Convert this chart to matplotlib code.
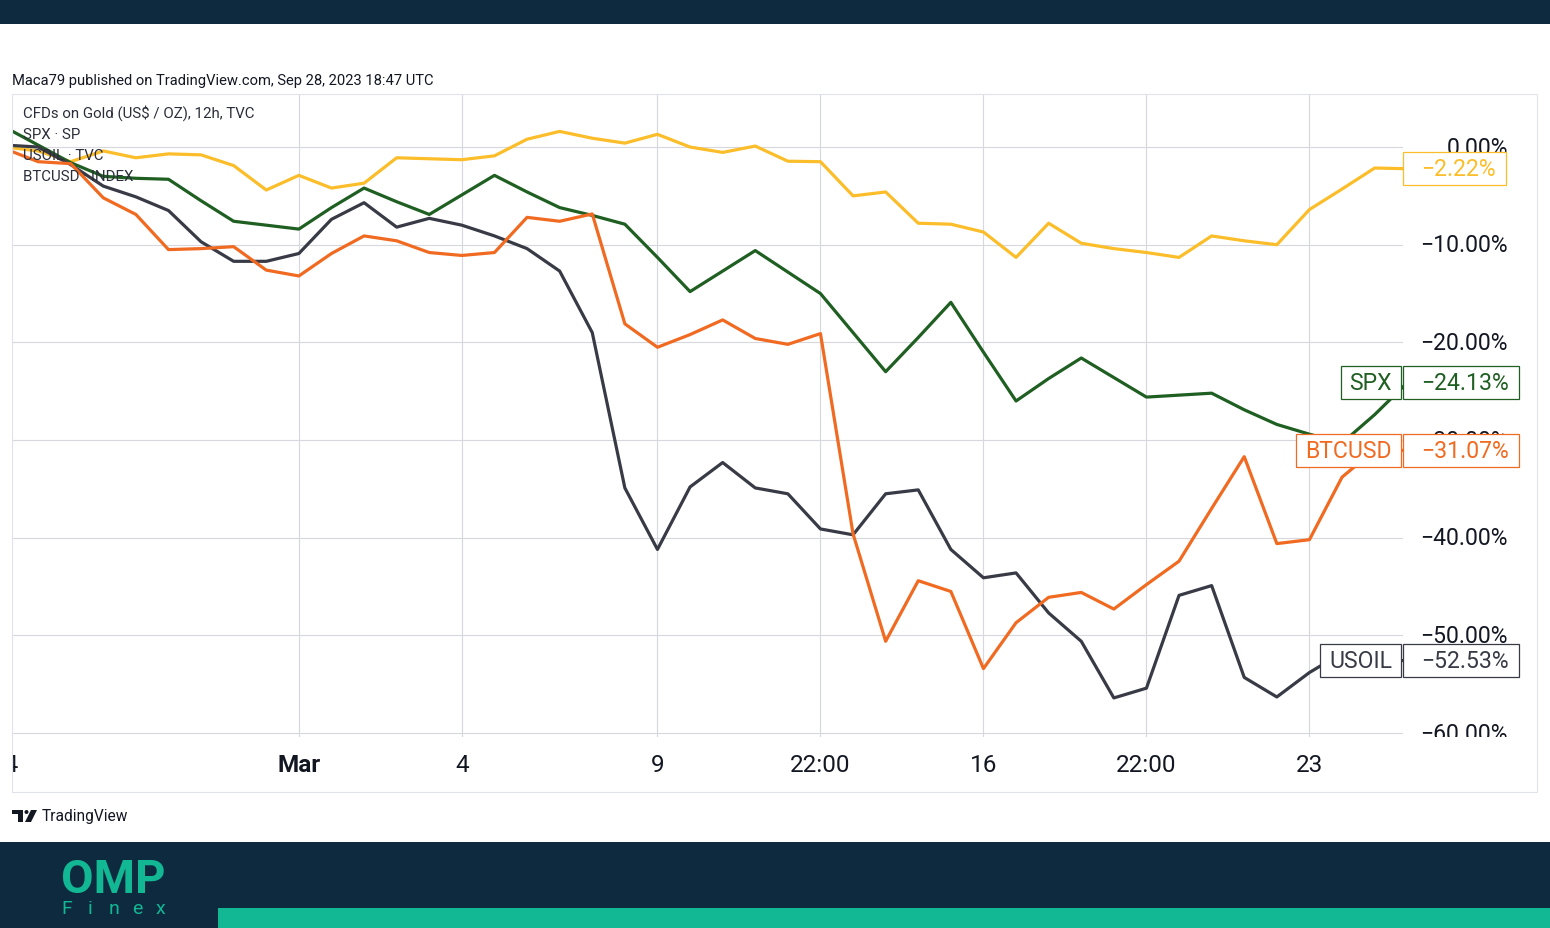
import matplotlib
matplotlib.use('Agg')
import matplotlib.pyplot as plt
from matplotlib.patches import Rectangle, Circle, Polygon

W, H, DPI = 1550, 929, 100

# ---- data: % change since start, one value per 12h bar (bar 0 = "Mar") ----
bar_idx = list(range(-9, 35))
gold = [0.0, -0.4, -1.5, -0.4, -1.1, -0.7, -0.8, -1.9, -4.4,
        -2.9, -4.2, -3.7, -1.1, -1.2, -1.3, -0.9, 0.8, 1.6, 0.9, 0.4,
        1.3, 0.0, -0.55, 0.1, -1.45, -1.5, -5.0, -4.6, -7.8, -7.9,
        -8.7, -11.3, -7.8, -9.85, -10.4, -10.8, -11.3, -9.1, -9.6, -10.0,
        -6.4, -4.3, -2.15, -2.22]
spx = [2.0, 0.2, -1.6, -3.0, -3.2, -3.3, -5.5, -7.6, -8.0,
       -8.4, -6.2, -4.2, -5.6, -6.9, -4.9, -2.9, -4.6, -6.2, -7.0, -7.9,
       -11.3, -14.8, -12.7, -10.6, -12.8, -15.0, -19.0, -23.0, -19.5, -15.9,
       -21.0, -26.0, -23.7, -21.6, -23.6, -25.6, -25.4, -25.2, -26.9, -28.4,
       -29.4, -30.3, -27.4, -24.13]
usoil = [0.2, 0.0, -1.8, -4.0, -5.1, -6.5, -9.7, -11.7, -11.7,
         -10.9, -7.4, -5.7, -8.2, -7.3, -8.0, -9.1, -10.4, -12.7, -19.0, -34.9,
         -41.2, -34.8, -32.3, -34.9, -35.5, -39.1, -39.7, -35.5, -35.1, -41.2,
         -44.1, -43.6, -47.7, -50.6, -56.4, -55.4, -45.9, -44.9, -54.3, -56.3,
         -53.8, -51.8, -52.8, -52.53]
btc = [-0.2, -1.5, -1.7, -5.2, -6.9, -10.5, -10.4, -10.2, -12.6,
       -13.2, -10.9, -9.1, -9.6, -10.8, -11.1, -10.8, -7.2, -7.6, -6.85, -18.1,
       -20.5, -19.2, -17.7, -19.6, -20.2, -19.1, -39.6, -50.6, -44.4, -45.5,
       -53.4, -48.7, -46.1, -45.6, -47.3, -44.8, -42.4, -37.0, -31.7, -40.6,
       -40.2, -33.8, -31.0, -31.07]

legend_names = ['CFDs on Gold (US$ / OZ), 12h, TVC', 'SPX \u00b7 SP', 'USOIL \u00b7 TVC', 'BTCUSD \u00b7 INDEX']
short_names = [None, 'SPX', 'USOIL', 'BTCUSD']
colors = ['#FBBE2A', '#1F5F22', '#383B46', '#F16A21']

x_tick_pos = [-9, 0, 5, 11, 16, 21, 26, 31]
x_tick_lbl = ['24', 'Mar', '4', '9', '22:00', '16', '22:00', '23']
y_ticks = [0, -10, -20, -30, -40, -50, -60]

NAVY = '#0E2A3F'
TEAL = '#12B794'
GRID = '#d6d8dd'
INK = '#131722'
plt.rcParams['font.family'] = ['Roboto', 'DejaVu Sans']

fig = plt.figure(figsize=(W / DPI, H / DPI), dpi=DPI)
fig.patch.set_facecolor('white')


def frac(x0, y0, x1, y1):
    return [x0 / W, 1 - y1 / H, (x1 - x0) / W, (y1 - y0) / H]


PL, PR, PT, PB = 12, 1403, 95, 738   # plot area (px)
FR, FB = 1537, 793                    # outer chart frame
SCALE_FS = 16.6

# ---- main plot ----
ax = fig.add_axes(frac(PL, PT, PR, PB))
ax.set_xlim(-8.8, 33.87)
ax.set_ylim(-60.4, 5.43)
ax.axis('off')
for xp in x_tick_pos:
    ax.axvline(xp, color=GRID, lw=0.8, zorder=0)
for yv in y_ticks:
    ax.axhline(yv, color=GRID, lw=0.8, zorder=0)
all_series = [gold, spx, usoil, btc]
for vals, c in zip(all_series, colors):
    ax.plot(bar_idx, vals, color=c, lw=2.3, zorder=2)

# ---- price scale ----
axp = fig.add_axes(frac(PR, PT, FR, PB))
axp.set_xlim(PR, FR)
axp.set_ylim(ax.get_ylim())
axp.axis('off')
for yv in y_ticks:
    lbl = f'{yv:.2f}%'.replace('-', '\u2212')
    axp.text(1508, yv, lbl, ha='right', va='center', fontsize=SCALE_FS,
             color=INK, clip_on=True)

# ---- time scale ----
axt = fig.add_axes(frac(PL, PB, PR, FB))
axt.set_xlim(ax.get_xlim())
axt.set_ylim(0, 1)
axt.axis('off')
for xp, lbl in zip(x_tick_pos, x_tick_lbl):
    axt.text(xp, 0.5, lbl, ha='center', va='center', fontsize=17.5, color=INK,
             fontweight='bold' if lbl == 'Mar' else 'normal', clip_on=True)

# ---- overlay in pixel coordinates ----
ov = fig.add_axes([0, 0, 1, 1])
ov.set_xlim(0, W)
ov.set_ylim(H, 0)
ov.axis('off')

# bands
ov.add_patch(Rectangle((0, 0), W, 25, fc=NAVY, ec='none'))
ov.add_patch(Rectangle((0, 843), W, H - 843, fc=NAVY, ec='none'))
ov.add_patch(Rectangle((218, 909), W - 218, 20, fc=TEAL, ec='none'))

# chart frame
ov.add_patch(Rectangle((PL, PT), FR - PL, FB - PT, fc='none', ec='#e0e3eb', lw=0.8))

ov.text(12, 80.5, 'Maca79 published on TradingView.com, Sep 28, 2023 18:47 UTC',
        ha='left', va='center', fontsize=10.6, color=INK)
for k, name in enumerate(legend_names):
    ov.text(23, 113.5 + 21 * k, name, ha='left', va='center', fontsize=10.8,
            color='#2a2e39', zorder=1)

# TradingView footer logo
ov.add_patch(Polygon([(12, 811), (23, 811), (23, 823), (18, 823), (18, 815), (12, 815)],
                     closed=True, fc=INK, ec='none'))
ov.add_patch(Circle((26.5, 813), 2.0, fc=INK, ec='none'))
ov.add_patch(Polygon([(31, 811), (37, 811), (31, 823), (25, 823)], closed=True, fc=INK, ec='none'))
ov.text(42, 817, 'TradingView', ha='left', va='center', fontsize=11.2, color=INK)

# OMP Finex logo
ov.text(113, 893, 'OMP', ha='center', va='baseline', fontsize=34, fontweight='bold',
        color=TEAL)
for k, ch in enumerate('Finex'):
    ov.text(67 + 23.3 * k, 914, ch, ha='center', va='baseline', fontsize=14,
            color=TEAL)

# last-value labels
fig.canvas.draw()
renderer = fig.canvas.get_renderer()
BOX_H = 33
for vals, c, short in zip(all_series, colors, short_names):
    v = vals[-1]
    ypx = H - ax.transData.transform((0, v))[1]
    lbl = f'{v:.2f}%'.replace('-', '\u2212')
    t = ov.text(1421, ypx, lbl, ha='left', va='center', fontsize=SCALE_FS, color=c, zorder=6)
    bb = t.get_window_extent(renderer)
    ov.add_patch(Rectangle((1403, ypx - BOX_H / 2), bb.x1 + 10 - 1403, BOX_H,
                           fc='white', ec=c, lw=0.9, zorder=5))
    if short:
        tn = ov.text(1392, ypx, short, ha='right', va='center', fontsize=SCALE_FS,
                     color=c, zorder=6)
        bn = tn.get_window_extent(renderer)
        ov.add_patch(Rectangle((bn.x0 - 9, ypx - BOX_H / 2), 1401 - (bn.x0 - 9), BOX_H,
                               fc='white', ec=c, lw=0.9, zorder=5))

fig.savefig('out.png', dpi=DPI, facecolor='white')
